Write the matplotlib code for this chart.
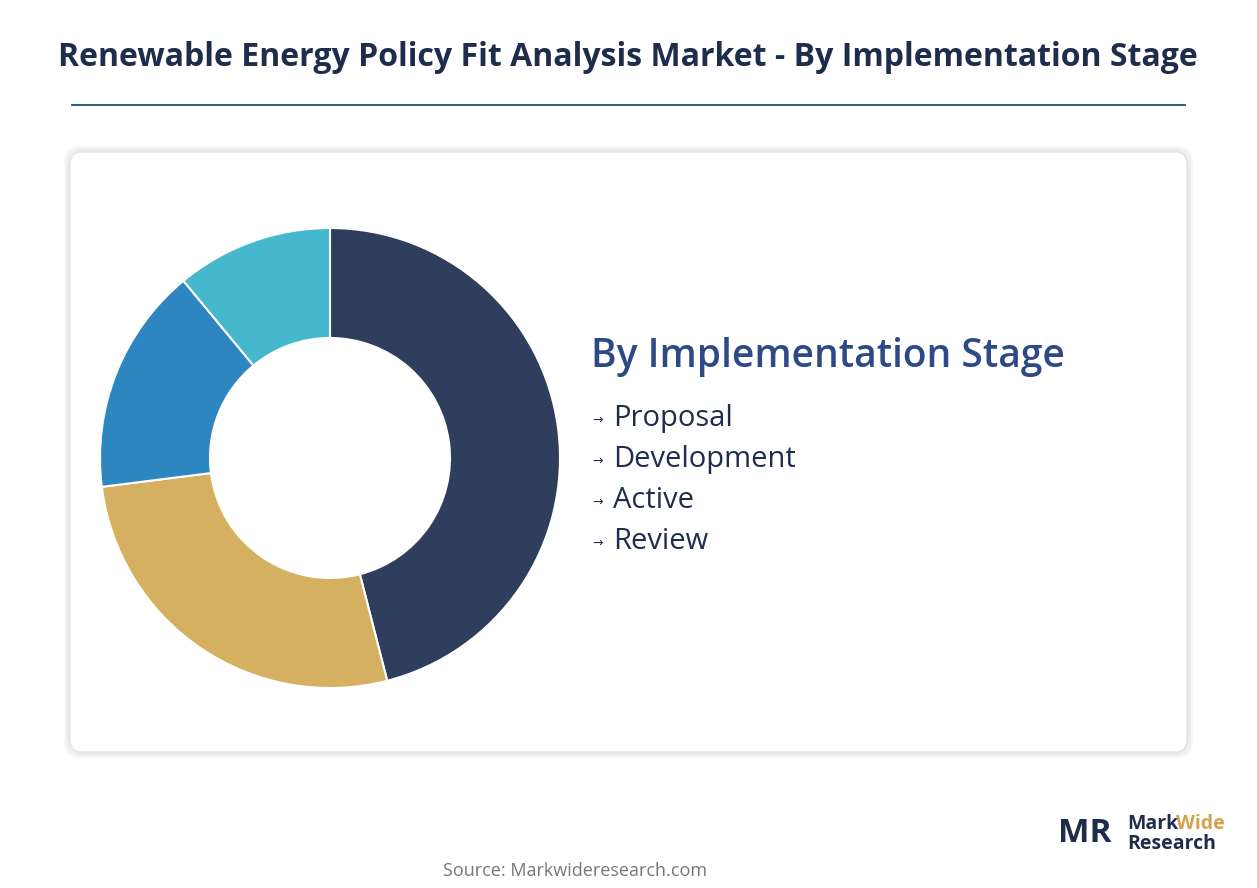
import matplotlib
matplotlib.use("Agg")
import matplotlib.pyplot as plt
from matplotlib.patches import FancyBboxPatch

categories = ["Proposal", "Development", "Active", "Review"]
values = [46, 27, 16, 11]
colors = ["#2E3E5C", "#D4B060", "#2E86C1", "#45B8CE"]

W, H = 1257, 888
fig = plt.figure(figsize=(W/100, H/100), dpi=100)
fig.patch.set_facecolor("white")
bg = fig.add_axes([0, 0, 1, 1])
bg.set_xlim(0, W); bg.set_ylim(H, 0); bg.axis("off")

bg.text(628, 57, "Renewable Energy Policy Fit Analysis Market - By Implementation Stage",
        ha="center", va="center", fontsize=23, fontweight="bold", color="#1F2D4D", family="Open Sans")
bg.plot([72, 1185], [105, 105], color="#1F4E6E", lw=1.3)

for i, a in enumerate([0.05, 0.04, 0.03]):
    bg.add_patch(FancyBboxPatch((70 - i*2, 152 - i*2), 1117 + i*4, 600 + i*4,
                                boxstyle="round,pad=0,rounding_size=14", fc="none",
                                ec=(0, 0, 0, a), lw=3))
bg.add_patch(FancyBboxPatch((70, 152), 1117, 600, boxstyle="round,pad=0,rounding_size=12",
                            fc="white", ec="#E6E6E6", lw=1))

bg.text(591, 357, "By Implementation Stage", ha="left", va="center", fontsize=28,
        fontweight="semibold", color="#2E4A86", family="Open Sans")
for i, c in enumerate(categories):
    y = 418 + i*41
    bg.text(592, y + 2, "→", ha="left", va="center", fontsize=9, color="#1F2D4D", family="DejaVu Sans")
    bg.text(613, y, c, ha="left", va="center", fontsize=21, color="#1F2D4D", family="Open Sans")

bg.text(575, 871, "Source: Markwideresearch.com", ha="center", va="center", fontsize=13,
        color="#777777", family="Open Sans")
bg.text(1058, 833, "MR", ha="left", va="center", fontsize=24, fontweight="bold", color="#1F2D4D", family="Open Sans")
bg.text(1127, 824, "Mark", ha="left", va="center", fontsize=14, fontweight="bold", color="#1F2D4D", family="Open Sans")
bg.text(1176, 824, "Wide", ha="left", va="center", fontsize=14, fontweight="bold", color="#D4A24C", family="Open Sans")
bg.text(1127, 844, "Research", ha="left", va="center", fontsize=14, fontweight="bold", color="#1F2D4D", family="Open Sans")

cx, cy, r = 330, 458, 230
ax = fig.add_axes([(cx - r)/W, (H - cy - r)/H, 2*r/W, 2*r/H])
ax.pie(values, colors=colors, startangle=90, counterclock=False, radius=1,
       wedgeprops=dict(width=110/230, edgecolor="white", linewidth=1.5))
ax.set_xlim(-1, 1); ax.set_ylim(-1, 1)
ax.set_aspect("equal")
fig.savefig("out.png", dpi=100)
